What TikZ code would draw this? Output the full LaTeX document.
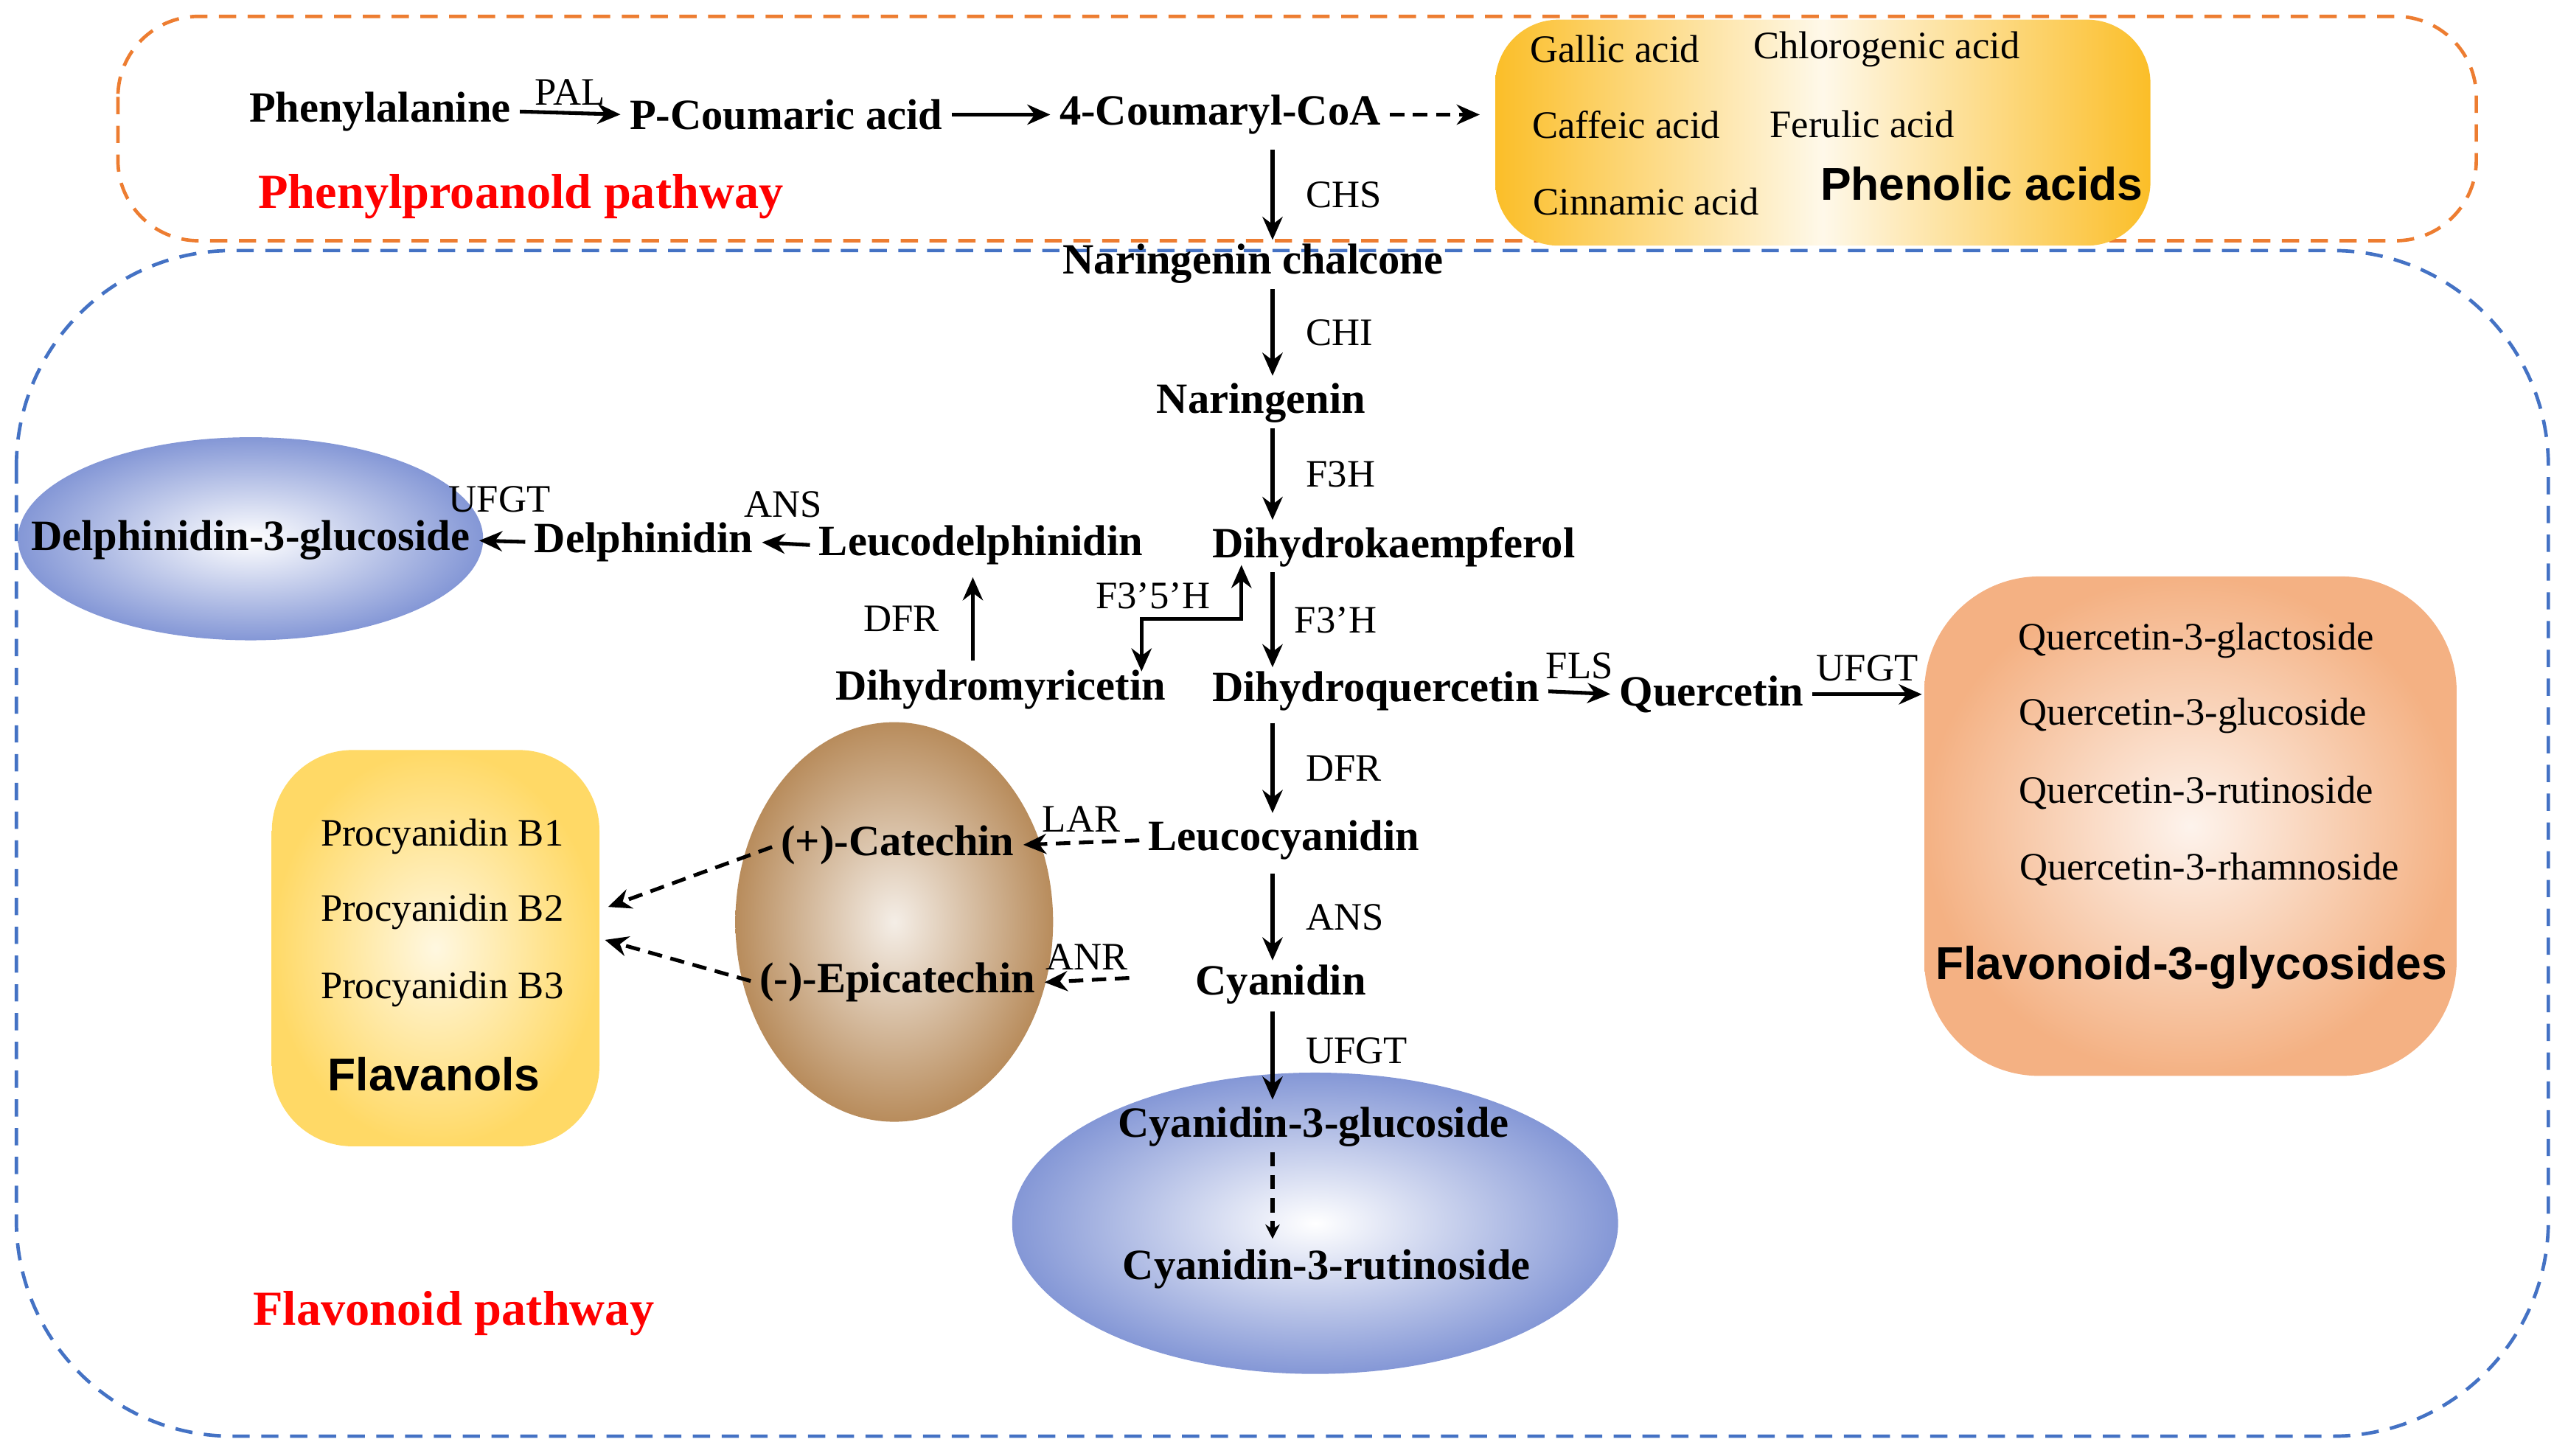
\documentclass[tikz,border=0pt]{standalone}
\usepackage{fontspec}
\setmainfont{Liberation Serif}
\newfontfamily\sansf{Liberation Sans}
\usetikzlibrary{arrows.meta,shapes.geometric}
\definecolor{obord}{RGB}{237,125,49}
\definecolor{bbord}{RGB}{68,114,196}
\definecolor{ellblue}{RGB}{132,151,214}
\definecolor{brownc}{RGB}{184,140,92}
\definecolor{peach}{RGB}{244,177,131}
\definecolor{goldc}{RGB}{251,190,40}
\definecolor{yelc}{RGB}{255,217,102}
\begin{document}
\begin{tikzpicture}[x=0.02cm,y=-0.02cm,
 cpd/.style={font=\fontsize{15}{18}\selectfont\bfseries,inner sep=1pt},
 enz/.style={font=\fontsize{13.5}{16}\selectfont,inner sep=1pt},
 lst/.style={font=\fontsize{13.5}{16}\selectfont,inner sep=1pt},
 grp/.style={font=\fontsize{16}{19}\selectfont\sansf\bfseries,inner sep=1pt},
 path/.style={font=\fontsize{17}{20}\selectfont\bfseries,text=red,inner sep=1pt},
 ar/.style={-{Stealth[length=8pt,width=7pt]},line width=1.3pt,shorten <=2pt,shorten >=2pt},
 dar/.style={ar,dash pattern=on 5pt off 3pt}]
\useasboundingbox (0,0) rectangle (1568,889);
% frames
\draw[obord,line width=1.2pt,dash pattern=on 6pt off 4pt,rounded corners=28] (72,10) rectangle (1512,147);
\draw[bbord,line width=1.2pt,dash pattern=on 6pt off 4pt,rounded corners=75] (10,153) rectangle (1556,877);
% group shapes
\shade[left color=goldc,right color=goldc,middle color=white!90!goldc,rounded corners=22] (913,12) rectangle (1313,150);
\shade[outer color=peach,inner color=white!85!peach,rounded corners=40] (1175,352) rectangle (1500,657);
\shade[outer color=yelc,inner color=white!80!yelc,rounded corners=28] (166,458) rectangle (366,700);
\shade[outer color=ellblue,inner color=white] (153,329) ellipse [x radius=142,y radius=62];
\shade[outer color=ellblue,inner color=white] (803,747) ellipse [x radius=185,y radius=92];
\shade[outer color=brownc,inner color=white!85!brownc] (546,563) ellipse [x radius=97,y radius=122];
% top pathway
\node[cpd] (phe) at (232,68) {Phenylalanine};
\node[cpd] (pca) at (480,70) {P-Coumaric acid};
\node[cpd] (cca) at (745,70) {4-Coumaryl-CoA};
\coordinate (phen) at (907,70);
\node[lst] at (986,30) {Gallic acid};
\node[lst] at (1152,30) {Chlorogenic acid};
\node[lst] at (993,76) {Caffeic acid};
\node[lst] at (1137,76) {Ferulic acid};
\node[lst] at (1005,123) {Cinnamic acid};
\node[grp] at (1210,112) {Phenolic acids};
\node[path] at (318,120) {Phenylproanold pathway};
\draw[ar] (phe.east) -- node[enz,above=1pt]{PAL} (pca.west);
\draw[ar] (pca.east) -- (cca.west);
\draw[dar] (cca.east) -- (phen);
% main column
\node[cpd] (nc) at (765,161) {Naringenin chalcone};
\node[cpd] (nar) at (770,246) {Naringenin};
\node[cpd] (dhk) at (851,334) {Dihydrokaempferol};
\node[cpd] (dhq) at (840,422) {Dihydroquercetin};
\node[cpd] (luc) at (784,513) {Leucocyanidin};
\node[cpd] (cya) at (782,601) {Cyanidin};
\node[cpd] (c3g) at (802,688) {Cyanidin-3-glucoside};
\node[cpd] (c3r) at (810,775) {Cyanidin-3-rutinoside};
\draw[ar] (777,88) -- node[enz,right=10pt]{CHS} (777,150);
\draw[ar] (777,173) -- node[enz,right=10pt]{CHI} (777,233);
\draw[ar] (777,258) -- node[enz,right=10pt]{F3H} (777,321);
\draw[ar] (777,346) -- node[enz,right=6pt]{F3'H} (777,411);
\draw[ar] (777,438) -- node[enz,right=10pt]{DFR} (777,500);
\draw[ar] (777,530) -- node[enz,right=10pt]{ANS} (777,590);
\draw[ar] (777,614) -- node[enz,right=10pt,pos=0.45]{UFGT} (777,675);
\draw[dar,-{Stealth[length=5pt,width=5pt]}] (777,700) -- (777,760);
% delphinidin branch
\node[cpd] (dhm) at (611,421) {Dihydromyricetin};
\node[cpd] (lde) at (599,333) {Leucodelphinidin};
\node[cpd] (del) at (393,331) {Delphinidin};
\node[cpd] (d3g) at (153,330) {Delphinidin-3-glucoside};
\draw[{Stealth[length=8pt,width=7pt]}-{Stealth[length=8pt,width=7pt]},line width=1.3pt] (758,345) -- (758,378) -- (697,378) -- (697,410);
\node[enz] at (704,364) {F3'5'H};
\draw[ar] (594,407) -- node[enz,left=10pt]{DFR} (594,349);
\draw[ar] (lde.west) -- (del.east);
\node[enz] at (478,308) {ANS};
\draw[ar] (del.west) -- (d3g.east);
\node[enz] at (305,305) {UFGT};
% quercetin branch
\node[cpd] (que) at (1045,424) {Quercetin};
\draw[ar] (dhq.east) -- node[enz,above=3pt]{FLS} (que.west);
\coordinate (qg) at (1177,424);
\draw[ar] (que.east) -- node[enz,above=3pt]{UFGT} (qg);
\node[lst] at (1341,391) {Quercetin-3-glactoside};
\node[lst] at (1339,437) {Quercetin-3-glucoside};
\node[lst] at (1341,484) {Quercetin-3-rutinoside};
\node[lst] at (1349,531) {Quercetin-3-rhamnoside};
\node[grp] at (1338,591) {Flavonoid-3-glycosides};
% catechins
\node[cpd] (cat) at (548,516) {(+)-Catechin};
\node[cpd] (epi) at (548,600) {(-)-Epicatechin};
\draw[dar] (luc.west) -- node[enz,above=2pt]{LAR} (cat.east);
\draw[dar] (693,597) -- node[enz,above=2pt]{ANR} (epi.east);
\node[lst] at (270,511) {Procyanidin B1};
\node[lst] at (270,557) {Procyanidin B2};
\node[lst] at (270,604) {Procyanidin B3};
\node[grp] at (265,656) {Flavanols};
\coordinate (fl1) at (368,555);
\coordinate (fl2) at (366,573);
\draw[dar] (cat.west) -- (fl1);
\draw[dar] (epi.west) -- (fl2);
\node[path] at (277,802) {Flavonoid pathway};
\end{tikzpicture}
\end{document}
